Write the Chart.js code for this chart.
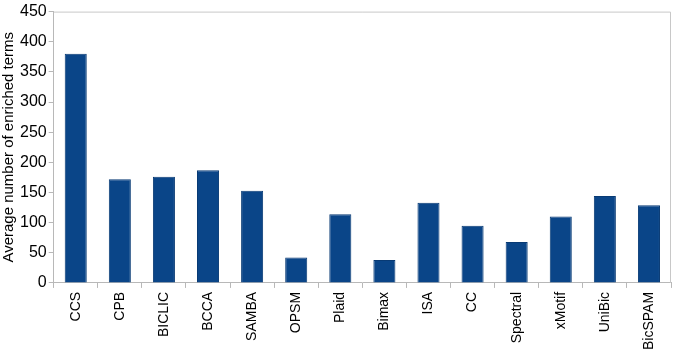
<!DOCTYPE html>
<html>
<head>
<meta charset="utf-8">
<script src="https://cdn.jsdelivr.net/npm/chart.js@4/dist/chart.umd.min.js"></script>
<style>
  html, body { margin: 0; padding: 0; background: #fff; }
  #wrap { width: 675px; height: 354px; }
</style>
</head>
<body>
<div id="wrap"><canvas id="myChart"></canvas></div>
<script>
var methods = ["CCS", "CPB", "BICLIC", "BCCA", "SAMBA", "OPSM", "Plaid", "Bimax", "ISA", "CC", "Spectral", "xMotif", "UniBic", "BicSPAM"];
var avgTerms = [380, 172, 176, 187, 153, 42, 114, 38, 133, 95, 68, 110, 144, 129];
var yTicks = [0, 50, 100, 150, 200, 250, 300, 350, 400, 450];

var frame = {
    id: 'frame',
    afterDraw: function (chart) {
        var a = chart.chartArea, c = chart.ctx;
        c.save();
        c.strokeStyle = '#c8c8c8';
        c.lineWidth = 1;
        c.beginPath();
        c.moveTo(a.left, a.top + 0.5);
        c.lineTo(a.right - 0.5, a.top + 0.5);
        c.lineTo(a.right - 0.5, a.bottom);
        c.stroke();
        c.restore();
    }
};

var ctx = document.getElementById("myChart");
var myChart = new Chart(ctx, {
    type: 'bar',
    data: {
        labels: methods,
        datasets: [
            {
                label: "Average number of enriched terms",
                data: avgTerms,
                backgroundColor: '#0a4588',
                borderColor: '#083a74',
                borderWidth: 1,
                categoryPercentage: 1,
                barPercentage: 0.5
            }
        ]
    },
    options: {
        responsive: true,
        maintainAspectRatio: false,
        animation: false,
        layout: { padding: { top: 4, right: 4, left: 0, bottom: 0 } },
        plugins: {
            legend: { display: false },
            tooltip: { enabled: false }
        },
        scales: {
            x: {
                grid: { drawOnChartArea: false, color: '#b8b8b8', tickLength: 5 },
                border: { color: '#b8b8b8' },
                ticks: {
                    color: '#000',
                    minRotation: 90,
                    maxRotation: 90,
                    padding: 4,
                    font: { family: 'Liberation Sans, Arial, sans-serif', size: 14 }
                }
            },
            y: {
                min: 0,
                max: 450,
                afterBuildTicks: function (axis) {
                    axis.ticks = yTicks.map(function (v) { return { value: v }; });
                },
                grid: { drawOnChartArea: false, color: '#b8b8b8', tickLength: 5 },
                border: { color: '#b8b8b8' },
                ticks: {
                    color: '#000',
                    padding: 2,
                    font: { family: 'Liberation Sans, Arial, sans-serif', size: 16 }
                },
                title: {
                    display: true,
                    text: 'Average number of enriched terms',
                    color: '#000',
                    padding: 0,
                    font: { family: 'Liberation Sans, Arial, sans-serif', size: 15 }
                }
            }
        }
    },
    plugins: [frame]
});
</script>
</body>
</html>
